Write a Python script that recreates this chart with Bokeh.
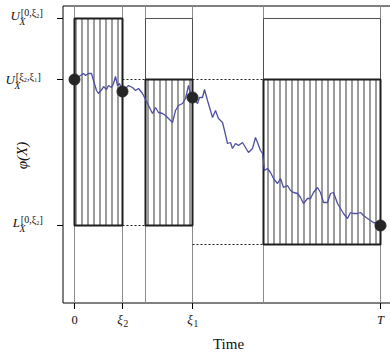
from math import pi
from bokeh.plotting import figure
from bokeh.models import Label, Range1d
from bokeh.embed import file_html
from bokeh.resources import INLINE

# ---------------- data (arbitrary units) ----------------
T = 306
xi2 = 48
xi1 = 118
t_b = 71      # start of second window
t_c = 189     # start of third window
U_0_xi2 = 2.07
U_xi2_xi1 = 1.46
L_0_xi2 = 0.0
L_c = -0.19

path_time = [0, 6, 9, 11, 14, 17, 19, 22, 24, 28, 29, 32, 34, 37, 39, 41, 43, 45, 48,
             51, 54, 58, 61, 64, 68, 71, 74, 78, 81, 84, 88, 91, 94, 98, 101, 104, 108,
             111, 114, 116, 118, 123, 125, 128, 130, 133, 136, 138, 141, 144, 148, 150,
             153, 156, 158, 161, 164, 168, 171, 174, 178, 181, 183, 186, 188, 190, 193,
             196, 199, 203, 206, 209, 213, 216, 219, 223, 226, 229, 233, 236, 239, 243,
             246, 249, 253, 256, 259, 263, 266, 269, 273, 276, 279, 283, 286, 289, 293,
             296, 299, 303, 306]
path_phi = [1.46, 1.50, 1.52, 1.50, 1.52, 1.52, 1.45, 1.35, 1.32, 1.37, 1.39, 1.36, 1.40,
            1.38, 1.42, 1.49, 1.40, 1.42, 1.34, 1.37, 1.40, 1.38, 1.35, 1.37, 1.32, 1.26,
            1.20, 1.12, 1.18, 1.13, 1.12, 1.10, 1.07, 1.03, 1.15, 1.20, 1.22, 1.27, 1.40,
            1.32, 1.28, 1.22, 1.28, 1.28, 1.36, 1.25, 1.15, 1.08, 1.15, 1.07, 1.03, 0.95,
            0.82, 0.83, 0.77, 0.82, 0.80, 0.83, 0.78, 0.73, 0.77, 0.88, 0.83, 0.75, 0.72,
            0.55, 0.57, 0.53, 0.47, 0.42, 0.47, 0.38, 0.40, 0.35, 0.33, 0.32, 0.28, 0.22,
            0.27, 0.27, 0.33, 0.38, 0.33, 0.23, 0.23, 0.32, 0.33, 0.22, 0.17, 0.12, 0.07,
            0.13, 0.12, 0.12, 0.13, 0.10, 0.07, 0.05, 0.03, 0.02, 0.00]

event_time = [0, xi2, xi1, T]
event_phi = [1.46, 1.34, 1.28, 0.00]

box_left = [0, t_b, t_c]
box_right = [xi2, xi1, T]
box_top = [U_0_xi2, U_0_xi2, U_0_xi2]
box_bottom = [L_0_xi2, L_0_xi2, L_c]
band_top = [U_0_xi2, U_xi2_xi1, U_xi2_xi1]
band_bottom = [L_0_xi2, L_0_xi2, L_c]

dash_start = [xi2, xi2, xi1, xi1]
dash_end = [t_b, t_b, t_c, t_c]
dash_level = [U_xi2_xi1, L_0_xi2, U_xi2_xi1, L_c]

guide_times = [0, xi2, t_b, xi1, t_c, T]

x_ticks = [0, xi2, xi1, T]
x_tick_main = ["0", "ξ", "ξ", "T"]
x_tick_sub = ["", "2", "1", ""]
y_ticks = [U_0_xi2, U_xi2_xi1, L_0_xi2]
y_tick_letter = ["U", "U", "L"]
y_tick_sub = ["X", "X", "X"]
y_tick_sup = ["[0,ξ₂]", "[ξ₂,ξ₁]", "[0,ξ₂]"]

# ---------------- figure ----------------
FONT = "Liberation Serif"
INK = "#111111"
W, H = 390, 353
X0, X1 = -74, 316
Y0, Y1 = -1.28, 2.25

p = figure(width=W, height=H, x_range=Range1d(X0, X1), y_range=Range1d(Y0, Y1),
           output_backend="svg", toolbar_location=None,
           x_axis_location=None, y_axis_location=None,
           min_border=0)
p.outline_line_color = None
p.grid.visible = False
p.background_fill_color = "white"
p.border_fill_color = "white"


def dx(px):  # canvas pixel (from left) -> data x
    return X0 + px * (X1 - X0) / W


def dy(py):  # canvas pixel (from top) -> data y
    return Y1 - py * (Y1 - Y0) / H


def px_y(v):  # data y -> canvas pixel (from top)
    return (Y1 - v) * H / (Y1 - Y0)


def text_at(x_px, base_px, text, size, style="normal", align="left"):
    # baseline given in canvas pixels; small correction for the text box layout
    p.add_layout(Label(x=dx(x_px), y=dy(base_px - 0.33 * size), text=text,
                       text_align=align, text_baseline="alphabetic", text_font=FONT,
                       text_font_size=f"{size}px", text_font_style=style, text_color=INK))


# plot box (left, top, bottom edges; right edge lies beyond the canvas)
box_l, box_r, box_t, box_b = dx(62.5), dx(400), dy(5.5), dy(302.5)
p.line([box_r, box_l, box_l, box_r], [box_t, box_t, box_b, box_b],
       line_color="black", line_width=1)

# tick marks
tick_len_x = dx(6) - dx(0)
tick_len_y = dy(0) - dy(6)
p.segment(x0=x_ticks, x1=x_ticks, y0=[box_b] * len(x_ticks),
          y1=[box_b - tick_len_y] * len(x_ticks), line_color="black", line_width=1)
p.segment(x0=[box_l] * len(y_ticks), x1=[box_l - tick_len_x] * len(y_ticks),
          y0=y_ticks, y1=y_ticks, line_color="black", line_width=1)

# vertical guides
p.segment(x0=guide_times, x1=guide_times, y0=[box_b] * len(guide_times),
          y1=[box_t] * len(guide_times), line_color="#8c8c8c", line_width=1)

# outer boxes
p.quad(left=box_left, right=box_right, top=box_top, bottom=box_bottom,
       fill_color=None, line_color="#505050", line_width=1)
# hatched bands
p.quad(left=box_left, right=box_right, top=band_top, bottom=band_bottom,
       fill_color=None, line_color="#1e1e1e", line_width=2,
       hatch_pattern="vertical_line", hatch_scale=6, hatch_weight=1, hatch_color="#3a3a3a")

# dashed connectors
p.segment(x0=dash_start, x1=dash_end, y0=dash_level, y1=dash_level,
          line_color="#222222", line_width=1, line_dash="2 2")

# path
p.line(path_time, path_phi, line_color="#4f4fa3", line_width=1.3)

# events
p.scatter(event_time, event_phi, size=11, fill_color="#262626", line_color="#262626")

# x tick labels
for t, main, sub in zip(x_ticks, x_tick_main, x_tick_sub):
    cx = t - X0  # canvas pixel of the tick
    if sub:
        text_at(cx - 2.5, 323, main, 13, "italic", "center")
        text_at(cx + 1.0, 326.5, sub, 9.5, "normal", "left")
    else:
        text_at(cx, 323.5, main, 12.5, "normal" if main == "0" else "italic", "center")

# y tick labels (letter, subscript, superscript)
right_px = [19.5, 14.5, 19.5]
base_off = [1.5, 4.5, 1.0]
for i, v in enumerate(y_ticks):
    base = px_y(v) + base_off[i]
    text_at(right_px[i], base, y_tick_letter[i], 13, "italic", "right")
    text_at(right_px[i] - 0.5, base + 5.5, y_tick_sub[i], 9.5, "italic", "left")
    text_at(right_px[i] + 0.8, base - 4.0, y_tick_sup[i], 10, "normal", "left")

# axis titles
text_at(228, 348, "Time", 15, "normal", "center")
p.add_layout(Label(x=dx(21), y=dy(155), text="φ(X)", angle=pi / 2, text_align="center",
                   text_baseline="middle", text_font=FONT, text_font_size="15px",
                   text_font_style="italic", text_color=INK))

open("out.html", "w").write(file_html(p, INLINE))
